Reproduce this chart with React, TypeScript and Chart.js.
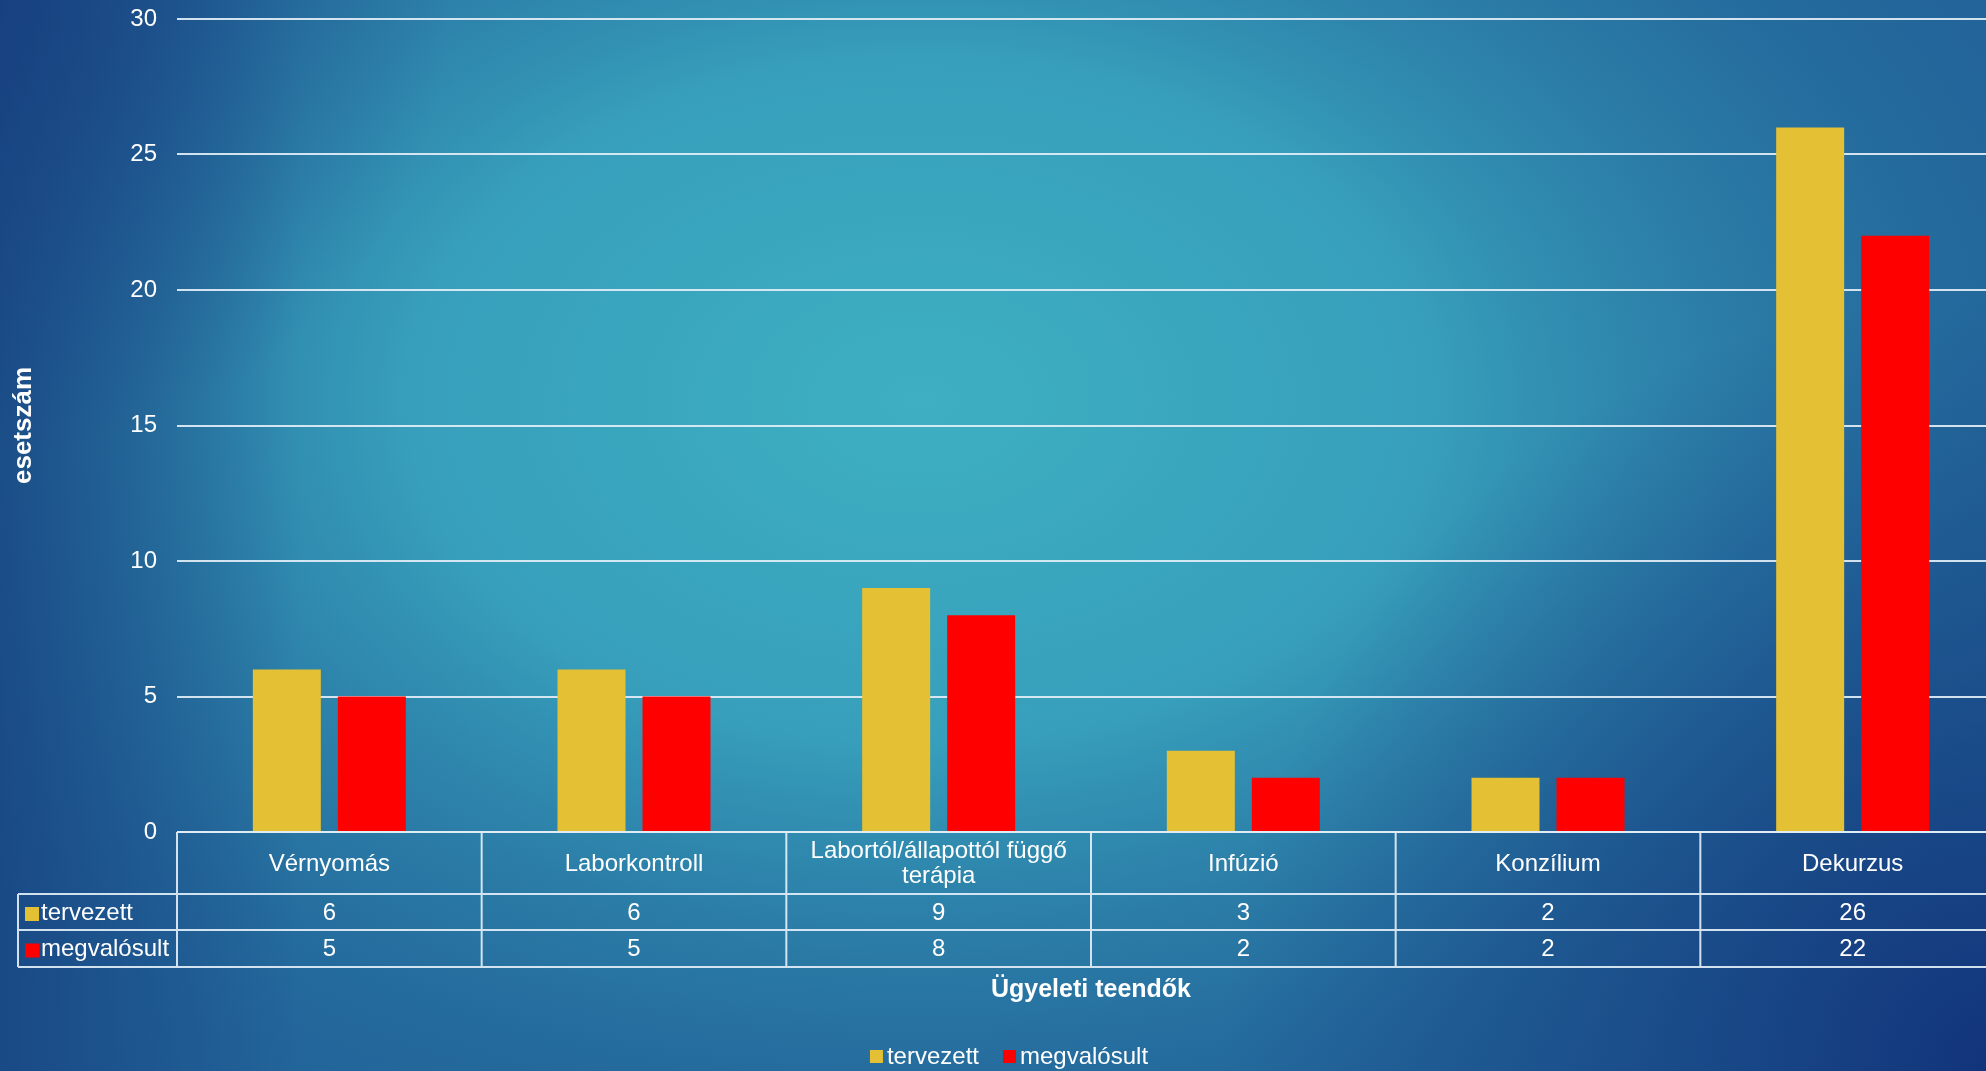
import React, { useEffect, useRef } from "react";
import { Chart, registerables } from "chart.js";

Chart.register(...registerables);

// ---- data ----
const categories: string[][] = [
  ["Vérnyomás"],
  ["Laborkontroll"],
  ["Labortól/állapottól függő", "terápia"],
  ["Infúzió"],
  ["Konzílium"],
  ["Dekurzus"],
];
const seriesNames = ["tervezett", "megvalósult"];
const tervezett = [6, 6, 9, 3, 2, 26];
const megvalosult = [5, 5, 8, 2, 2, 22];
const seriesColors = ["#e4c035", "#ff0000"];
const yMin = 0;
const yMax = 30;
const yStep = 5;
const yTitle = "esetszám";
const xTitle = "Ügyeleti teendők";

const FONT = '"Liberation Sans", Arial, sans-serif';
const LINE = "rgba(226,238,246,0.92)";

const bgPlugin = {
  id: "bgPlugin",
  beforeDraw(chart: any) {
    const { ctx, width, height } = chart;
    ctx.save();
    ctx.fillStyle = "#22649a";
    ctx.fillRect(0, 0, width, height);
    // central teal glow (elliptical)
    ctx.save();
    ctx.translate(920, 400);
    ctx.scale(1.5, 1);
    let g = ctx.createRadialGradient(0, 0, 0, 0, 0, 850);
    g.addColorStop(0, "rgba(62,176,194,1)");
    g.addColorStop(0.4, "rgba(57,164,190,0.92)");
    g.addColorStop(0.72, "rgba(44,128,168,0.55)");
    g.addColorStop(1, "rgba(34,100,150,0)");
    ctx.fillStyle = g;
    ctx.fillRect(-2000, -2000, 4000, 4000);
    ctx.restore();
    // left edge darker
    g = ctx.createLinearGradient(0, 0, 300, 0);
    g.addColorStop(0, "rgba(22,62,125,0.7)");
    g.addColorStop(1, "rgba(22,62,125,0)");
    ctx.fillStyle = g;
    ctx.fillRect(0, 0, 300, height);
    // top-left corner
    g = ctx.createRadialGradient(0, 0, 0, 0, 0, 450);
    g.addColorStop(0, "rgba(22,58,125,0.6)");
    g.addColorStop(1, "rgba(22,58,125,0)");
    ctx.fillStyle = g;
    ctx.fillRect(0, 0, 500, 500);
    // bottom-right darker
    g = ctx.createRadialGradient(2000, 1071, 0, 2000, 1071, 780);
    g.addColorStop(0, "rgba(17,48,120,0.95)");
    g.addColorStop(0.5, "rgba(20,58,125,0.5)");
    g.addColorStop(1, "rgba(20,58,125,0)");
    ctx.fillStyle = g;
    ctx.fillRect(1000, 200, 1100, 900);
    ctx.restore();
  },
};

const tablePlugin = {
  id: "tablePlugin",
  afterDraw(chart: any) {
    const { ctx, chartArea } = chart;
    const xs = chart.scales.x;
    const n = categories.length;
    const catW = (chartArea.right - chartArea.left) / n;
    const top = chartArea.bottom;
    const r1 = top + 62;
    const r2 = top + 98;
    const r3 = top + 135;
    const labelLeft = 18;
    ctx.save();
    ctx.strokeStyle = LINE;
    ctx.lineWidth = 2;
    ctx.beginPath();
    ctx.moveTo(chartArea.left, top);
    ctx.lineTo(chartArea.right + 30, top);
    for (const y of [r1, r2, r3]) {
      ctx.moveTo(labelLeft, y);
      ctx.lineTo(chartArea.right + 30, y);
    }
    ctx.moveTo(labelLeft, r1);
    ctx.lineTo(labelLeft, r3);
    for (let i = 0; i <= n; i++) {
      const x = xs.getPixelForValue(i) - catW / 2;
      ctx.moveTo(x, top);
      ctx.lineTo(x, r3);
    }
    ctx.stroke();

    ctx.fillStyle = "#ffffff";
    ctx.font = `24px ${FONT}`;
    ctx.textAlign = "center";
    ctx.textBaseline = "middle";
    const series = [tervezett, megvalosult];
    for (let i = 0; i < n; i++) {
      const cx = xs.getPixelForValue(i);
      const lines = categories[i];
      const lh = 25;
      const cy = (top + r1) / 2 + 1;
      lines.forEach((ln, k) => {
        ctx.fillText(ln, cx, cy + (k - (lines.length - 1) / 2) * lh);
      });
      ctx.fillText(String(series[0][i]), cx, (r1 + r2) / 2 + 1);
      ctx.fillText(String(series[1][i]), cx, (r2 + r3) / 2 + 1);
    }
    // series labels with markers
    ctx.textAlign = "left";
    const rowsY = [(r1 + r2) / 2 + 1, (r2 + r3) / 2 + 1];
    seriesNames.forEach((nm, k) => {
      ctx.fillStyle = seriesColors[k];
      ctx.fillRect(25, rowsY[k] - 6, 14, 14);
      ctx.fillStyle = "#ffffff";
      ctx.fillText(nm, 41, rowsY[k]);
    });

    // x axis title
    ctx.font = `bold 25px ${FONT}`;
    ctx.textAlign = "center";
    ctx.fillText(xTitle, (chartArea.left + chartArea.right) / 2, 990);

    // legend
    ctx.font = `24px ${FONT}`;
    ctx.textAlign = "left";
    const box = 13;
    const gapBT = 4;
    const gapItems = 24;
    const widths = seriesNames.map((s) => box + gapBT + ctx.measureText(s).width);
    const total = widths.reduce((a, b) => a + b, 0) + gapItems * (widths.length - 1);
    let x = 1009 - total / 2;
    const ly = 1057;
    seriesNames.forEach((s, k) => {
      ctx.fillStyle = seriesColors[k];
      ctx.fillRect(x, ly - 7, box, box);
      ctx.fillStyle = "#ffffff";
      ctx.fillText(s, x + box + gapBT, ly);
      x += widths[k] + gapItems;
    });
    ctx.restore();
  },
};

export default function App() {
  const ref = useRef<HTMLCanvasElement | null>(null);
  useEffect(() => {
    if (!ref.current) return;
    const chart = new Chart(ref.current, {
      type: "bar",
      data: {
        labels: categories.map((c) => c.join(" ")),
        datasets: [
          {
            label: seriesNames[0],
            data: tervezett,
            backgroundColor: seriesColors[0],
            borderWidth: 0,
            barPercentage: 0.8,
            categoryPercentage: 0.558,
          },
          {
            label: seriesNames[1],
            data: megvalosult,
            backgroundColor: seriesColors[1],
            borderWidth: 0,
            barPercentage: 0.8,
            categoryPercentage: 0.558,
          },
        ],
      },
      options: {
        animation: false,
        responsive: true,
        maintainAspectRatio: false,
        devicePixelRatio: 1,
        layout: { padding: { top: 19, right: 19, bottom: 239, left: 0 } },
        plugins: {
          legend: { display: false },
          tooltip: { enabled: false },
        },
        scales: {
          x: { display: false },
          y: {
            min: yMin,
            max: yMax,
            ticks: {
              stepSize: yStep,
              color: "#ffffff",
              font: { family: FONT, size: 24 },
              padding: 20,
            },
            grid: { color: LINE, lineWidth: 2, drawTicks: false },
            border: { display: false },
            title: {
              display: true,
              text: yTitle,
              color: "#ffffff",
              font: { family: FONT, size: 26, weight: "bold" },
              padding: { top: 8, bottom: 0 },
            },
            afterFit(scale: any) {
              scale.width = 177;
              scale.paddingTop = 0;
              scale.paddingBottom = 0;
            },
          },
        },
      },
      plugins: [bgPlugin, tablePlugin],
    } as any);
    return () => chart.destroy();
  }, []);
  return (
    <div style={{ position: "fixed", left: 0, top: 0, width: 1986, height: 1071, overflow: "hidden" }}>
      <div style={{ position: "relative", width: 2024, height: 1071 }}>
        <canvas ref={ref} />
      </div>
    </div>
  );
}
